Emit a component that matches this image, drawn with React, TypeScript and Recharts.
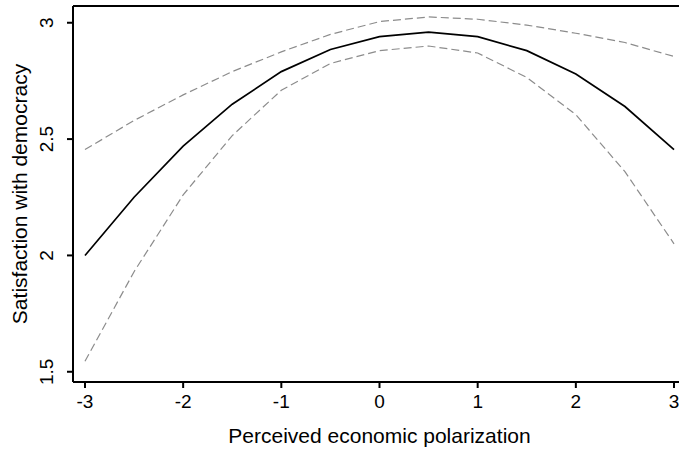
import React from 'react';
import { LineChart, Line, XAxis, YAxis, ReferenceLine } from 'recharts';

const xValues = [-3, -2.5, -2, -1.5, -1, -0.5, 0, 0.5, 1, 1.5, 2, 2.5, 3];
const estimate = [2.0, 2.25, 2.47, 2.65, 2.79, 2.885, 2.94, 2.96, 2.94, 2.88, 2.78, 2.64, 2.455];
const upperCI = [2.455, 2.58, 2.69, 2.79, 2.875, 2.95, 3.005, 3.025, 3.015, 2.99, 2.955, 2.915, 2.855];
const lowerCI = [1.545, 1.93, 2.26, 2.515, 2.71, 2.825, 2.88, 2.9, 2.87, 2.765, 2.605, 2.36, 2.05];
const xTicks = [-3, -2, -1, 0, 1, 2, 3];
const yTicks = [1.5, 2, 2.5, 3];

const data = xValues.map((x, i) => ({
  x,
  est: estimate[i],
  hi: upperCI[i],
  lo: lowerCI[i],
}));

const FONT = '"Liberation Sans", Arial, sans-serif';

const YTick = (props: any) => {
  const { x, y, payload } = props;
  const bx = x - 12;
  return (
    <text
      x={bx}
      y={y}
      transform={`rotate(-90 ${bx} ${y})`}
      textAnchor="middle"
      fontSize={19}
      fontFamily={FONT}
      fill="#000"
    >
      {payload.value}
    </text>
  );
};

const YLabel = (props: any) => {
  const vb = props.viewBox || {};
  const cy = (vb.y ?? 6) + (vb.height ?? 376) / 2;
  const bx = 27;
  return (
    <text
      x={bx}
      y={cy}
      transform={`rotate(-90 ${bx} ${cy})`}
      textAnchor="middle"
      fontSize={21}
      fontFamily={FONT}
      fill="#000"
    >
      Satisfaction with democracy
    </text>
  );
};

export default function App() {
  return (
    <div style={{ position: 'absolute', left: 0, top: 0, background: '#fff' }}>
      <LineChart
        width={686}
        height={452}
        data={data}
        margin={{ top: 6, right: 0, left: 0, bottom: 0 }}
      >
        <XAxis
          dataKey="x"
          type="number"
          domain={[-3.122, 3.122]}
          ticks={xTicks}
          allowDataOverflow
          height={70}
          stroke="#000"
          strokeWidth={2}
          tickSize={6}
          tickMargin={7}
          tick={{ fill: '#000', fontSize: 19, fontFamily: FONT }}
          label={{
            value: 'Perceived economic polarization',
            position: 'insideBottom',
            offset: 9,
            fill: '#000',
            fontSize: 21,
            fontFamily: FONT,
          }}
        />
        <YAxis
          type="number"
          domain={[1.456, 3.072]}
          ticks={yTicks}
          allowDataOverflow
          width={73}
          stroke="#000"
          strokeWidth={2}
          tickSize={6}
          tick={<YTick />}
          label={<YLabel />}
        />
        <ReferenceLine y={3.072} stroke="#000" strokeWidth={2} ifOverflow="extendDomain" />
        <Line
          dataKey="hi"
          stroke="#8c8c8c"
          strokeWidth={1.2}
          strokeDasharray="8 4"
          dot={false}
          isAnimationActive={false}
        />
        <Line
          dataKey="lo"
          stroke="#8c8c8c"
          strokeWidth={1.2}
          strokeDasharray="8 4"
          dot={false}
          isAnimationActive={false}
        />
        <Line
          dataKey="est"
          stroke="#000"
          strokeWidth={1.7}
          dot={false}
          isAnimationActive={false}
        />
      </LineChart>
    </div>
  );
}
